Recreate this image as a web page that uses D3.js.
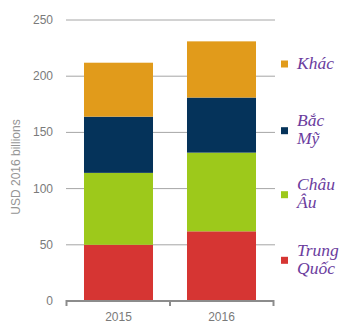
<!DOCTYPE html>
<html><head><meta charset="utf-8">
<script src="https://cdn.jsdelivr.net/npm/d3@7"></script>
<style>html,body{margin:0;padding:0;background:#fff;}</style>
</head><body>
<svg id="c" width="350" height="334"></svg>
<script>
const years = ["2015", "2016"];
const seriesNames = ["Trung Quốc", "Châu Âu", "Bắc Mỹ", "Khác"];
const legendLines = [["Trung", "Quốc"], ["Châu", "Âu"], ["Bắc", "Mỹ"], ["Khác"]];
const trungQuoc = [50, 62];
const chauAu = [64, 70];
const bacMy = [50, 49];
const khac = [48, 50];
const yTicks = [0, 50, 100, 150, 200, 250];
const colors = ["#d63533", "#9dc91b", "#05335a", "#e19b1b"];

const svg = d3.select("#c");
const x = d3.scaleBand().domain(years).range([67, 273]).paddingInner(0.33).paddingOuter(0.165);
const y = d3.scaleLinear().domain([0, 250]).range([301, 20]);

// gridlines
svg.append("g").selectAll("line").data(yTicks.filter(d => d > 0)).join("line")
  .attr("x1", 66).attr("x2", 275).attr("y1", d => y(d)).attr("y2", d => y(d))
  .attr("stroke", "#a6a6a6").attr("stroke-width", 1);

// y tick labels
svg.append("g").selectAll("text").data(yTicks).join("text")
  .attr("x", 53).attr("y", d => y(d) + 4).attr("text-anchor", "end")
  .attr("font-family", "Liberation Sans, Arial, sans-serif").attr("font-size", 12)
  .attr("fill", "#7a7a7a").text(d => d);

// y title
svg.append("text").attr("transform", "translate(20,167) rotate(-90)")
  .attr("text-anchor", "middle").attr("font-family", "Liberation Sans, Arial, sans-serif")
  .attr("font-size", 12).attr("fill", "#959595").text("USD 2016 billions");

// stack
const rows = years.map((yr, i) => ({year: yr, s0: trungQuoc[i], s1: chauAu[i], s2: bacMy[i], s3: khac[i]}));
const stack = d3.stack().keys(["s0", "s1", "s2", "s3"])(rows);
svg.append("g").selectAll("g").data(stack).join("g").attr("fill", (d, i) => colors[i])
  .selectAll("rect").data(d => d).join("rect")
  .attr("x", d => x(d.data.year)).attr("width", x.bandwidth())
  .attr("y", d => y(d[1])).attr("height", d => y(d[0]) - y(d[1]));

// x axis
const xa = svg.append("g");
xa.append("line").attr("x1", 66).attr("x2", 274).attr("y1", 301).attr("y2", 301)
  .attr("stroke", "#8c8c8c").attr("stroke-width", 2);
const edges = [66.5, 170, 273.5];
xa.selectAll("line.t").data(edges).join("line").attr("class", "t")
  .attr("x1", d => d).attr("x2", d => d).attr("y1", 300).attr("y2", 306)
  .attr("stroke", "#8c8c8c").attr("stroke-width", 2);
xa.selectAll("text").data(years).join("text")
  .attr("x", d => x(d) + x.bandwidth() / 2).attr("y", 321).attr("text-anchor", "middle")
  .attr("font-family", "Liberation Sans, Arial, sans-serif").attr("font-size", 12)
  .attr("fill", "#7a7a7a").text(d => d);

// legend
const legY = [260.3, 194.7, 130.7, 64];
const lg = svg.append("g");
seriesNames.forEach((n, i) => {
  lg.append("rect").attr("x", 281).attr("y", legY[i] - 3.5).attr("width", 7).attr("height", 7)
    .attr("fill", colors[i]);
  const lines = legendLines[i];
  const lh = 18.3;
  const base0 = legY[i] + 4.5 - (lines.length - 1) * lh / 2;
  const t = lg.append("text").attr("font-family", "Liberation Serif, Times New Roman, serif")
    .attr("font-style", "italic").attr("font-size", 17.5).attr("fill", "#6b3d9e");
  lines.forEach((ln, j) => {
    t.append("tspan").attr("x", 297).attr("y", base0 + j * lh).text(ln);
  });
});
</script>
</body></html>
